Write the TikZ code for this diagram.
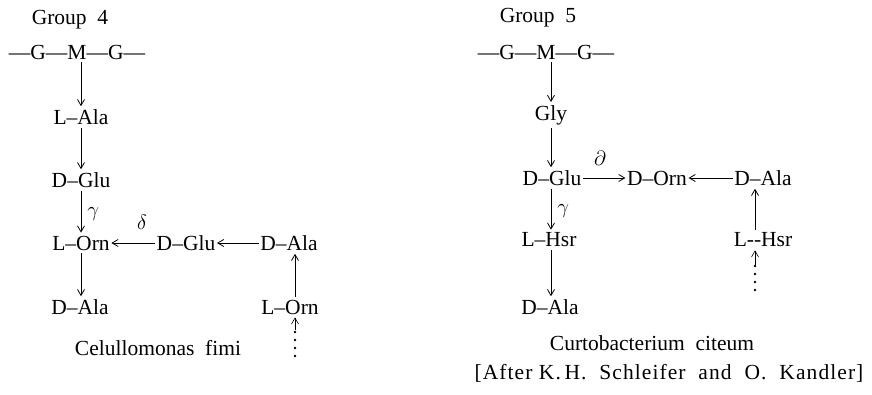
\documentclass[tikz,border=0pt]{standalone}
\usepackage{fontspec}
\setmainfont{Liberation Serif}
\usetikzlibrary{arrows.meta}
\begin{document}
\begin{tikzpicture}[x=1pt,y=-1pt,
  every node/.style={font=\fontsize{21.5}{25}\selectfont, inner xsep=1.5pt, inner ysep=3pt},
  lab/.style={font=\fontsize{20}{22}\selectfont, inner sep=0pt},
  arr/.style={-{Straight Barb[length=6pt,width=7pt]}, line width=0.8pt},
  dots/.style={line width=2.6pt, dash pattern=on 0pt off 8pt, line cap=round}]
\useasboundingbox (0,0) rectangle (872,395);
% ---------- Group 4 ----------
\node (g4) at (70,20) {Group\ \ 4};
\node (gmgA) at (77,52) {---G---M---G---};
\node (lala) at (81,117) {L--Ala};
\node (dgluA) at (81,180) {D--Glu};
\node (lornA) at (81,243) {L--Orn};
\node (dglu2) at (186,243) {D--Glu};
\node (dalaA2) at (289,243) {D--Ala};
\node (dalaA) at (80,307) {D--Ala};
\node (lornA2) at (290,307) {L--Orn};
\node (cel) at (158,348) {Celullomonas\ \ fimi};
\coordinate (xA) at (81,0);
\coordinate (xB) at (295,0);
\coordinate (dA1) at (295,356);
\coordinate (dA2) at (295,330);
\draw[arr] (gmgA.south -| xA) -- (lala.north -| xA);
\draw[arr] (lala.south -| xA) -- (dgluA.north -| xA);
\draw[arr] (dgluA.south -| xA) -- node[lab, right=6pt, pos=0.55] {$\gamma$} (lornA.north -| xA);
\draw[arr] (lornA.south -| xA) -- (dalaA.north -| xA);
\draw[arr] (dglu2) -- (lornA);
\node[lab] (deltaA) at (142,222) {$\delta$};
\draw[arr] (dalaA2) -- (dglu2);
\draw[arr] (lornA2.north -| xB) -- (dalaA2.south -| xB);
\draw[dots] (dA1) -- (dA2);
\draw[arr, line width=0.6pt] (dA2) -- (lornA2.south -| xB);
% ---------- Group 5 ----------
\node (g5) at (538,18) {Group\ \ 5};
\node (gmgB) at (546,52) {---G---M---G---};
\node (gly) at (551,115) {Gly};
\node (dgluB) at (552,178) {D--Glu};
\node (dorn) at (657,178) {D--Orn};
\node (dalaB2) at (763,178) {D--Ala};
\node (lhsr) at (549,240) {L--Hsr};
\node (lhsr2) at (763,240) {L-{}-Hsr};
\node (dalaB) at (550,307) {D--Ala};
\node (cur) at (652,343) {Curtobacterium\ \ citeum};
\node (after) at (669,373) {\addfontfeature{LetterSpace=5}[After K.\,H.\ \ Schleifer\ \ and\ \ O.\ \ Kandler]};
\coordinate (xC) at (551,0);
\coordinate (xD) at (755,0);
\coordinate (dB1) at (755,290);
\coordinate (dB2) at (755,265);
\draw[arr] (gmgB.south -| xC) -- (gly.north -| xC);
\draw[arr] (gly.south -| xC) -- (dgluB.north -| xC);
\draw[arr] (dgluB.south -| xC) -- node[lab, right=6pt, pos=0.55] {$\gamma$} (lhsr.north -| xC);
\draw[arr] (lhsr.south -| xC) -- (dalaB.north -| xC);
\draw[arr] (dgluB) -- (dorn);
\node[lab] (partB) at (600,158) {$\partial$};
\draw[arr] (dalaB2) -- (dorn);
\draw[arr] (lhsr2.north -| xD) -- (dalaB2.south -| xD);
\draw[dots] (dB1) -- (dB2);
\draw[arr, line width=0.6pt] (dB2) -- (lhsr2.south -| xD);
\end{tikzpicture}
\end{document}
